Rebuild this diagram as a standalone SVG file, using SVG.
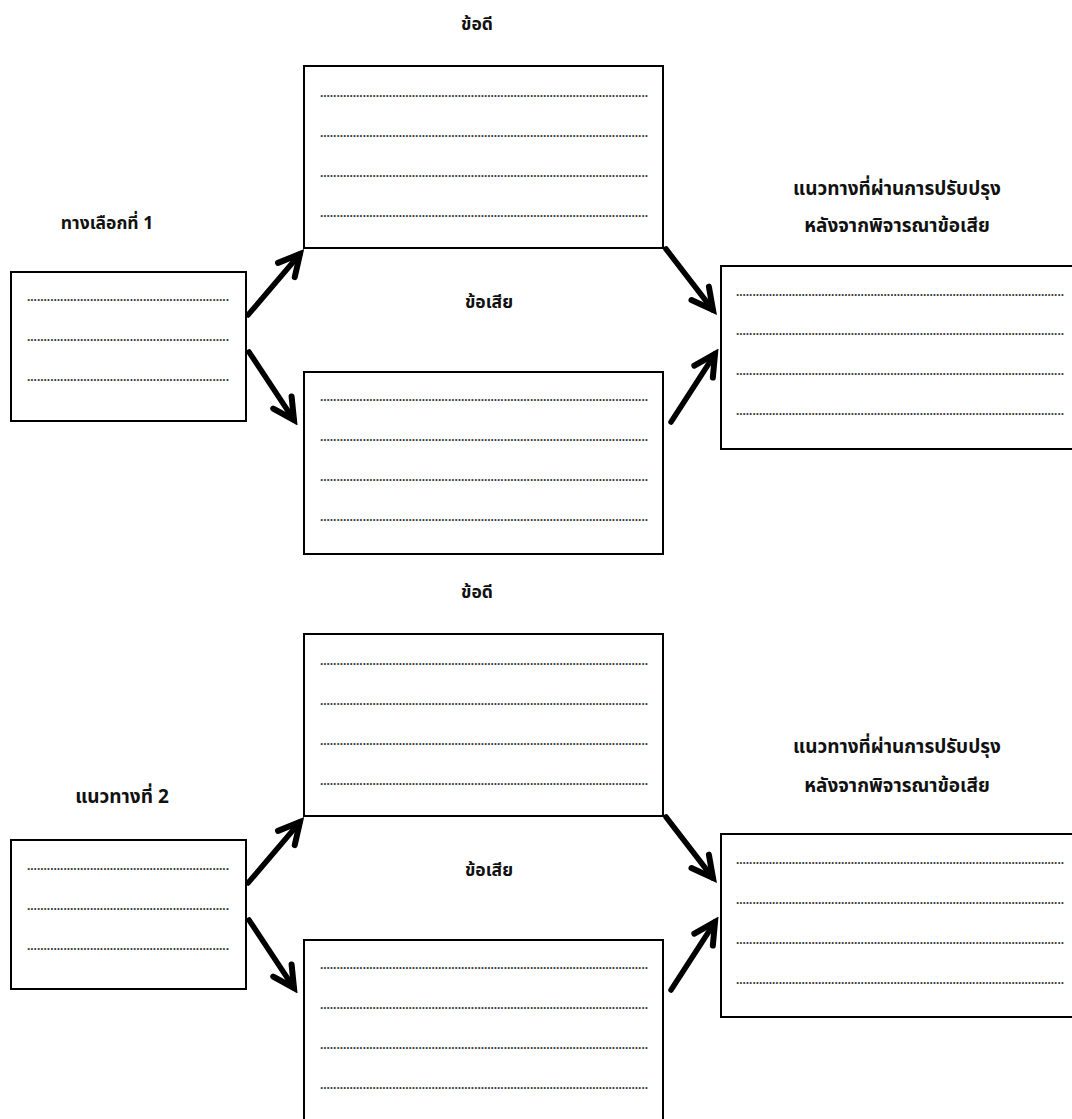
<svg xmlns="http://www.w3.org/2000/svg" width="1072" height="1119" viewBox="0 0 1072 1119">
  <defs>
    <style>
      .box { fill: #ffffff; stroke: #000000; stroke-width: 2; }
      .dots { font-family: "Liberation Sans", Arial, sans-serif; font-size: 12px; font-weight: bold; fill: #3a3a3a; }
      .lbl { font-family: "Tahoma", "Noto Sans Thai", "Noto Sans Thai UI", "Loma", "Garuda", "Leelawadee UI", "DejaVu Sans", sans-serif; font-weight: bold; fill: #111111; text-anchor: middle; }
      .small { font-size: 17.5px; }
      .mid { font-size: 19px; }
      .big { font-size: 19px; }
      .link { fill: none; stroke: #000000; stroke-width: 5.5; stroke-linecap: round; }
    </style>
    <marker id="chevron" markerUnits="userSpaceOnUse" viewBox="-30 -18 36 36" markerWidth="36" markerHeight="36" refX="0" refY="0" orient="auto">
      <path d="M -21 -11 L 0 0 L -21 11" fill="none" stroke="#000000" stroke-width="6" stroke-linejoin="miter" stroke-linecap="round"/>
    </marker>
  </defs>

  <rect width="1072" height="1119" fill="#ffffff"/>

  <!-- ===== Option 1 ===== -->
  <g id="pros-label-1">
    <text class="lbl small" x="477" y="30">ข้อดี</text>
  </g>
  <g id="pros-1">
    <rect class="box" x="304" y="66" width="359" height="182"/>
    <text class="dots" x="320" y="97" textLength="328" lengthAdjust="spacing">....................................................................................................</text>
    <text class="dots" x="320" y="137" textLength="328" lengthAdjust="spacing">....................................................................................................</text>
    <text class="dots" x="320" y="177" textLength="328" lengthAdjust="spacing">....................................................................................................</text>
    <text class="dots" x="320" y="217" textLength="328" lengthAdjust="spacing">....................................................................................................</text>
  </g>
  <g id="option-label-1">
    <text class="lbl small" x="107" y="229">ทางเลือกที่ 1</text>
  </g>
  <g id="option-1">
    <rect class="box" x="11" y="272" width="235" height="149"/>
    <text class="dots" x="27" y="301" textLength="202" lengthAdjust="spacing">.............................................................</text>
    <text class="dots" x="27" y="341" textLength="202" lengthAdjust="spacing">.............................................................</text>
    <text class="dots" x="27" y="381" textLength="202" lengthAdjust="spacing">.............................................................</text>
  </g>
  <g id="cons-label-1">
    <text class="lbl small" x="489" y="308">ข้อเสีย</text>
  </g>
  <g id="cons-1">
    <rect class="box" x="304" y="372" width="359" height="182"/>
    <text class="dots" x="320" y="401" textLength="328" lengthAdjust="spacing">....................................................................................................</text>
    <text class="dots" x="320" y="441" textLength="328" lengthAdjust="spacing">....................................................................................................</text>
    <text class="dots" x="320" y="481" textLength="328" lengthAdjust="spacing">....................................................................................................</text>
    <text class="dots" x="320" y="521" textLength="328" lengthAdjust="spacing">....................................................................................................</text>
  </g>
  <g id="improved-label-1">
    <text class="lbl big" x="897" y="195">แนวทางที่ผ่านการปรับปรุง</text>
    <text class="lbl big" x="897" y="232">หลังจากพิจารณาข้อเสีย</text>
  </g>
  <g id="improved-1">
    <rect class="box" x="721" y="266" width="370" height="183"/>
    <text class="dots" x="736" y="296" textLength="328" lengthAdjust="spacing">....................................................................................................</text>
    <text class="dots" x="736" y="335" textLength="328" lengthAdjust="spacing">....................................................................................................</text>
    <text class="dots" x="736" y="375" textLength="328" lengthAdjust="spacing">....................................................................................................</text>
    <text class="dots" x="736" y="415" textLength="328" lengthAdjust="spacing">....................................................................................................</text>
  </g>

  <!-- ===== Option 2 ===== -->
  <g id="pros-label-2">
    <text class="lbl small" x="477" y="598">ข้อดี</text>
  </g>
  <g id="pros-2">
    <rect class="box" x="304" y="634" width="359" height="182"/>
    <text class="dots" x="320" y="665" textLength="328" lengthAdjust="spacing">....................................................................................................</text>
    <text class="dots" x="320" y="705" textLength="328" lengthAdjust="spacing">....................................................................................................</text>
    <text class="dots" x="320" y="745" textLength="328" lengthAdjust="spacing">....................................................................................................</text>
    <text class="dots" x="320" y="785" textLength="328" lengthAdjust="spacing">....................................................................................................</text>
  </g>
  <g id="option-label-2">
    <text class="lbl mid" x="122" y="803">แนวทางที่ 2</text>
  </g>
  <g id="option-2">
    <rect class="box" x="11" y="840" width="235" height="149"/>
    <text class="dots" x="27" y="870" textLength="202" lengthAdjust="spacing">.............................................................</text>
    <text class="dots" x="27" y="910" textLength="202" lengthAdjust="spacing">.............................................................</text>
    <text class="dots" x="27" y="950" textLength="202" lengthAdjust="spacing">.............................................................</text>
  </g>
  <g id="cons-label-2">
    <text class="lbl small" x="489" y="876">ข้อเสีย</text>
  </g>
  <g id="cons-2">
    <rect class="box" x="304" y="940" width="359" height="200"/>
    <text class="dots" x="320" y="969" textLength="328" lengthAdjust="spacing">....................................................................................................</text>
    <text class="dots" x="320" y="1009" textLength="328" lengthAdjust="spacing">....................................................................................................</text>
    <text class="dots" x="320" y="1049" textLength="328" lengthAdjust="spacing">....................................................................................................</text>
    <text class="dots" x="320" y="1089" textLength="328" lengthAdjust="spacing">....................................................................................................</text>
  </g>
  <g id="improved-label-2">
    <text class="lbl big" x="897" y="753">แนวทางที่ผ่านการปรับปรุง</text>
    <text class="lbl big" x="897" y="792">หลังจากพิจารณาข้อเสีย</text>
  </g>
  <g id="improved-2">
    <rect class="box" x="721" y="834" width="370" height="183"/>
    <text class="dots" x="736" y="864" textLength="328" lengthAdjust="spacing">....................................................................................................</text>
    <text class="dots" x="736" y="904" textLength="328" lengthAdjust="spacing">....................................................................................................</text>
    <text class="dots" x="736" y="944" textLength="328" lengthAdjust="spacing">....................................................................................................</text>
    <text class="dots" x="736" y="984" textLength="328" lengthAdjust="spacing">....................................................................................................</text>
  </g>

  <!-- ===== Connectors ===== -->
  <g id="connectors">
    <line class="link" x1="248" y1="315" x2="300" y2="254" marker-end="url(#chevron)"/>
    <line class="link" x1="249" y1="352" x2="294" y2="420" marker-end="url(#chevron)"/>
    <line class="link" x1="666" y1="249" x2="713" y2="310" marker-end="url(#chevron)"/>
    <line class="link" x1="671" y1="422" x2="715" y2="354" marker-end="url(#chevron)"/>

    <line class="link" x1="248" y1="883" x2="300" y2="822" marker-end="url(#chevron)"/>
    <line class="link" x1="249" y1="920" x2="294" y2="988" marker-end="url(#chevron)"/>
    <line class="link" x1="666" y1="817" x2="713" y2="878" marker-end="url(#chevron)"/>
    <line class="link" x1="671" y1="990" x2="715" y2="922" marker-end="url(#chevron)"/>
  </g>
</svg>
